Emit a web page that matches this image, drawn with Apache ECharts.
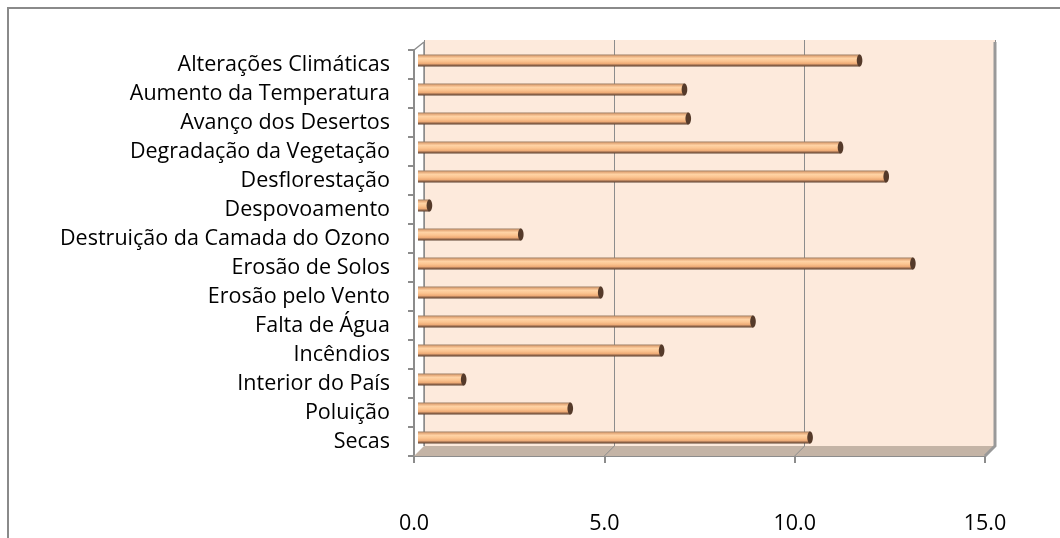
<!DOCTYPE html>
<html>
<head>
<meta charset="utf-8">
<script src="https://cdn.jsdelivr.net/npm/echarts@6/dist/echarts.min.js"></script>
<style>
  html, body { margin: 0; padding: 0; background: #ffffff; }
  #chart { width: 1060px; height: 538px; }
</style>
</head>
<body>
<div id="chart"></div>
<script>
// Problemas ambientais referidos (valores em %)
const categories = [
  'Alterações Climáticas',
  'Aumento da Temperatura',
  'Avanço dos Desertos',
  'Degradação da Vegetação',
  'Desflorestação',
  'Despovoamento',
  'Destruição da Camada do Ozono',
  'Erosão de Solos',
  'Erosão pelo Vento',
  'Falta de Água',
  'Incêndios',
  'Interior do País',
  'Poluição',
  'Secas'
];
const values = [11.6, 7.0, 7.1, 11.1, 12.3, 0.3, 2.7, 13.0, 4.8, 8.8, 6.4, 1.2, 4.0, 10.3];
const xTicks = [0, 5, 10, 15];

// Layout of the pseudo-3D box: front face, bar plane, back wall
const front = { left: 414, top: 50, right: 985, bottom: 456 };
const depth = 10;          // offset of the back wall (px, up and right)
const barDepth = 4;        // bars sit part way into the box
function gridAt(d) {
  return {
    left: front.left + d,
    top: front.top - d,
    width: front.right - front.left,
    height: front.bottom - front.top
  };
}
const backGrid = gridAt(depth);
const barGrid = gridAt(barDepth);

const FONT = "'Open Sans', 'Noto Sans', sans-serif";
const FONT_SIZE = 21.5;
const AXIS_GREY = '#8c8c8c';

const chart = echarts.init(document.getElementById('chart'), null, { renderer: 'canvas' });

const barGradient = new echarts.graphic.LinearGradient(0, 0, 0, 1, [
  { offset: 0.00, color: '#9c7c62' },
  { offset: 0.14, color: '#e6aa7a' },
  { offset: 0.32, color: '#ffd3a5' },
  { offset: 0.55, color: '#fcc591' },
  { offset: 0.76, color: '#eeab76' },
  { offset: 0.88, color: '#9a6c4e' },
  { offset: 1.00, color: '#5a3e2d' }
]);

function renderBar(params, api) {
  const v = api.value(0);
  const c = api.value(1);
  const start = api.coord([0, c]);
  const end = api.coord([v, c]);
  const h = 12;
  const y = end[1] - h / 2;
  return {
    type: 'group',
    children: [
      {
        type: 'rect',
        shape: { x: start[0], y: y, width: Math.max(end[0] - start[0], 1), height: h },
        style: { fill: barGradient }
      },
      {
        type: 'ellipse',
        shape: { cx: end[0], cy: end[1], rx: 2.8, ry: h / 2 },
        style: { fill: '#553a2a' }
      }
    ]
  };
}

const backLeft = backGrid.left, backRight = backGrid.left + backGrid.width;
const backTop = backGrid.top, backBottom = backGrid.top + backGrid.height;
const scale = (front.right - front.left) / 15;

// floor, wall edges and floor grid diagonals
const decor = [
  {
    type: 'polygon', z: 1, silent: true,
    shape: { points: [
      [front.left, front.bottom], [front.right, front.bottom],
      [backRight, backBottom], [backLeft, backBottom]
    ] },
    style: { fill: '#c4b4a6' }
  },
  {
    type: 'polyline', z: 2, silent: true,
    shape: { points: [[backRight, backTop + 2], [backRight, backBottom], [front.right, front.bottom]] },
    style: { stroke: '#999999', lineWidth: 3, fill: null }
  },
  {
    type: 'polyline', z: 2, silent: true,
    shape: { points: [[front.left, front.top], [backLeft, backTop + 2]] },
    style: { stroke: AXIS_GREY, lineWidth: 1.5, fill: null }
  },
  {
    type: 'line', z: 2, silent: true,
    shape: { x1: backLeft, y1: backTop + 2, x2: backLeft, y2: backBottom },
    style: { stroke: AXIS_GREY, lineWidth: 1.5 }
  },
  {
    type: 'rect', z: 0, silent: true,
    shape: { x: 8, y: 8, width: 1100, height: 600 },
    style: { fill: null, stroke: '#8a8a8a', lineWidth: 2 }
  }
];
xTicks.slice(1, -1).forEach(function (t) {
  decor.push({
    type: 'line', z: 2, silent: true,
    shape: { x1: backLeft + t * scale, y1: backBottom, x2: front.left + t * scale, y2: front.bottom },
    style: { stroke: AXIS_GREY, lineWidth: 1 }
  });
});

chart.setOption({
  backgroundColor: '#ffffff',
  animation: false,
  grid: [
    { left: front.left, top: front.top, width: front.right - front.left, height: front.bottom - front.top },
    { left: backGrid.left, top: backGrid.top, width: backGrid.width, height: backGrid.height,
      show: true, backgroundColor: '#fdeadc', borderWidth: 0 },
    { left: barGrid.left, top: barGrid.top, width: barGrid.width, height: barGrid.height }
  ],
  xAxis: [
    {
      gridIndex: 0, type: 'value', min: 0, max: 15, interval: 5,
      axisLine: { show: true, lineStyle: { color: AXIS_GREY, width: 2 } },
      axisTick: { show: true, length: 7, lineStyle: { color: AXIS_GREY, width: 2 } },
      axisLabel: { formatter: function (v) { return v.toFixed(1); }, margin: 57,
        color: '#000', fontSize: FONT_SIZE, fontFamily: FONT },
      splitLine: { show: false }
    },
    {
      gridIndex: 1, type: 'value', min: 0, max: 15, interval: 5,
      axisLine: { show: false }, axisTick: { show: false }, axisLabel: { show: false },
      splitLine: { show: true, lineStyle: { color: AXIS_GREY, width: 1 } }
    },
    {
      gridIndex: 2, type: 'value', min: 0, max: 15, interval: 5, show: false
    }
  ],
  yAxis: [
    {
      gridIndex: 0, type: 'category', inverse: true, data: categories,
      axisLine: { show: true, lineStyle: { color: AXIS_GREY, width: 2 } },
      axisTick: { show: true, length: 6, lineStyle: { color: AXIS_GREY, width: 2 } },
      axisLabel: { margin: 24, padding: [6, 0, 0, 0], color: '#000',
        fontSize: FONT_SIZE, fontFamily: FONT },
      splitLine: { show: false }
    },
    { gridIndex: 1, type: 'category', inverse: true, data: categories, show: false },
    { gridIndex: 2, type: 'category', inverse: true, data: categories, show: false }
  ],
  series: [
    {
      type: 'custom',
      xAxisIndex: 2, yAxisIndex: 2,
      z: 5,
      renderItem: renderBar,
      data: values.map(function (v, i) { return [v, i]; })
    }
  ],
  graphic: decor
});
</script>
</body>
</html>
